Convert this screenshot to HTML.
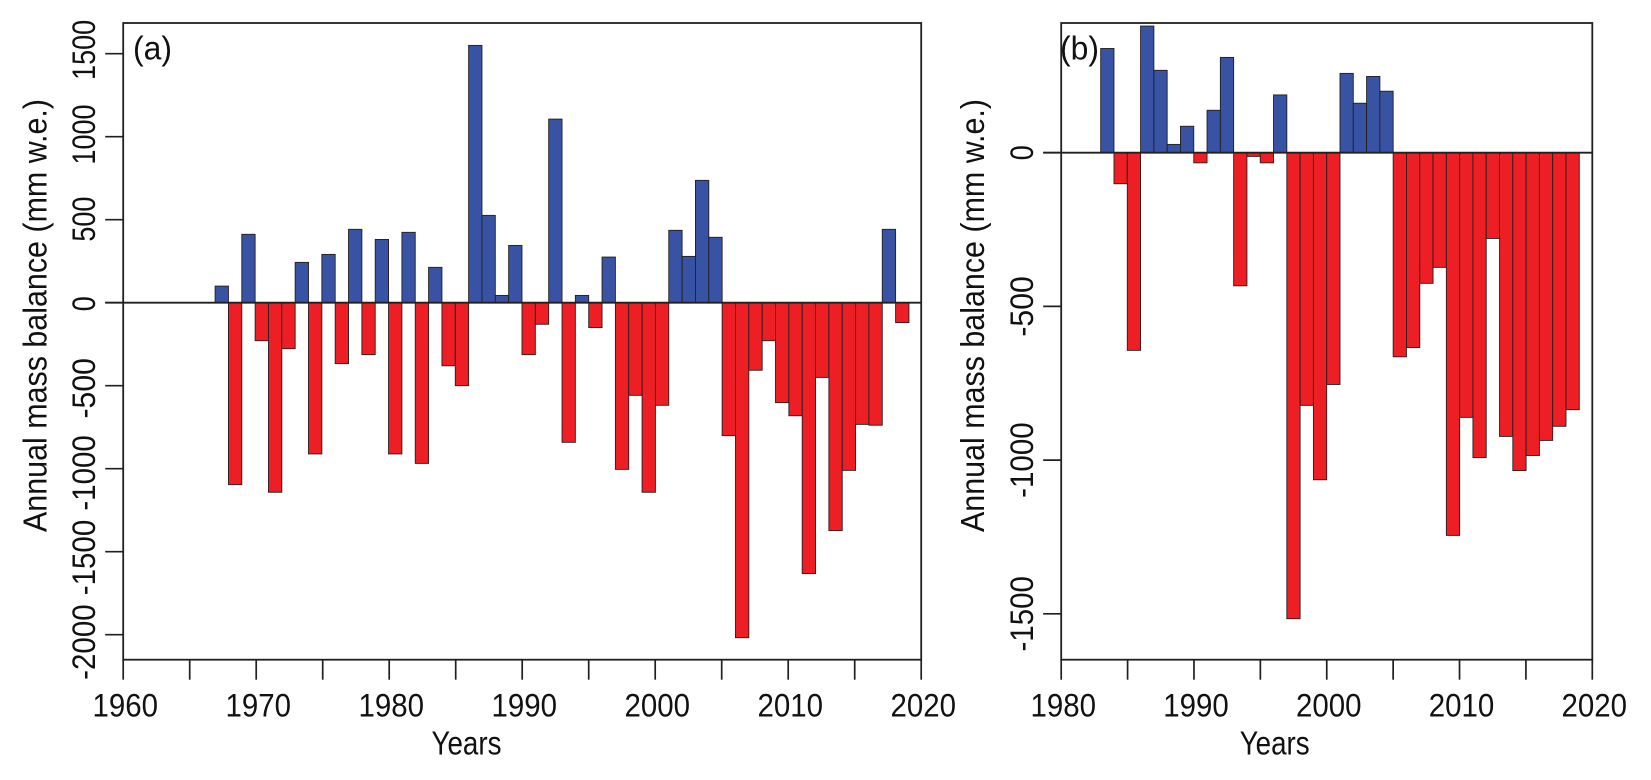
<!DOCTYPE html>
<html lang="en">
<head>
<meta charset="utf-8">
<title>Annual mass balance</title>
<style>
html,body{margin:0;padding:0;background:#fff;width:1651px;height:780px;overflow:hidden}
svg{display:block}
text{font-family:"Liberation Sans",sans-serif;fill:#111}
</style>
</head>
<body>
<svg id="chart" xmlns="http://www.w3.org/2000/svg" width="1651" height="780" viewBox="0 0 1651 780"></svg>
<script>
const yearsA = [1967,1968,1969,1970,1971,1972,1973,1974,1975,1976,1977,1978,1979,1980,1981,1982,1983,1984,1985,1986,1987,1988,1989,1990,1991,1992,1993,1994,1995,1996,1997,1998,1999,2000,2001,2002,2003,2004,2005,2006,2007,2008,2009,2010,2011,2012,2013,2014,2015,2016,2017,2018];
const valuesA = [100,-1096,412,-229,-1142,-277,243,-911,291,-367,442,-313,381,-911,424,-968,213,-380,-500,1550,526,44,345,-313,-130,1106,-841,44,-150,275,-1004,-558,-1142,-618,436,279,737,394,-801,-2018,-407,-229,-602,-681,-1632,-450,-1373,-1010,-733,-738,442,-120];
const yearsB = [1983,1984,1985,1986,1987,1988,1989,1990,1991,1992,1993,1994,1995,1996,1997,1998,1999,2000,2001,2002,2003,2004,2005,2006,2007,2008,2009,2010,2011,2012,2013,2014,2015,2016,2017,2018];
const valuesB = [339,-101,-643,412,268,27,86,-33,138,310,-433,-12,-33,188,-1516,-822,-1064,-754,258,161,248,200,-664,-634,-425,-373,-1245,-861,-992,-279,-923,-1034,-985,-936,-890,-836];
const yTicksA = [1500,1000,500,0,-500,-1000,-1500,-2000];
const yTicksB = [0,-500,-1000,-1500];
const xTicksA = [1960,1965,1970,1975,1980,1985,1990,1995,2000,2005,2010,2015,2020];
const xLabelsA = [1960,1970,1980,1990,2000,2010,2020];
const xTicksB = [1980,1985,1990,1995,2000,2005,2010,2015,2020];
const xLabelsB = [1980,1990,2000,2010,2020];

const NS = 'http://www.w3.org/2000/svg';
const INK = '#231F20';
const BLUE = '#3953A4';
const RED = '#ED1F24';
const svg = document.getElementById('chart');

function linear(d0, d1, r0, r1) {
  return function (v) { return r0 + (v - d0) * (r1 - r0) / (d1 - d0); };
}

function line(parent, x1, y1, x2, y2, w) {
  const l = document.createElementNS(NS, 'line');
  l.setAttribute('x1', x1);
  l.setAttribute('y1', y1);
  l.setAttribute('x2', x2);
  l.setAttribute('y2', y2);
  l.setAttribute('stroke', INK);
  l.setAttribute('stroke-width', w);
  parent.appendChild(l);
  return l;
}

function label(parent, str, x, y, size, len, rotate) {
  const t = document.createElementNS(NS, 'text');
  t.textContent = str;
  t.setAttribute('text-anchor', 'middle');
  t.setAttribute('font-size', size);
  t.setAttribute('textLength', len);
  t.setAttribute('lengthAdjust', 'spacingAndGlyphs');
  if (rotate) {
    t.setAttribute('transform', 'translate(' + x + ' ' + y + ') rotate(-90)');
  } else {
    t.setAttribute('x', x);
    t.setAttribute('y', y);
  }
  parent.appendChild(t);
  return t;
}

function yLabelLength(v) {
  return String(Math.abs(v)).length * 15 + (v < 0 ? 15.5 : 0);
}

function drawPanel(p) {
  const g = document.createElementNS(NS, 'g');
  
  
  svg.appendChild(g);

  const x = linear(p.xMin, p.xMax, p.left, p.right);
  const y = linear(0, 500, p.zeroY, p.zeroY - p.px500);
  const labelY = linear(0, 500, p.zeroY + p.labelShift, p.zeroY + p.labelShift - p.labelPx500);
  const barX = linear(p.years[0], p.years[p.years.length - 1], p.barFirst, p.barLast);
  const barW = (p.barLast - p.barFirst) / (p.years.length - 1);

  p.years.forEach(function (yr, i) {
    const v = p.values[i];
    const r = document.createElementNS(NS, 'rect');
    
    
    r.setAttribute('x', barX(yr).toFixed(2));
    r.setAttribute('y', Math.min(y(v), y(0)).toFixed(2));
    r.setAttribute('width', barW.toFixed(2));
    r.setAttribute('height', Math.abs(y(v) - y(0)).toFixed(2));
    r.setAttribute('fill', v >= 0 ? BLUE : RED);
    r.setAttribute('stroke', INK);
    r.setAttribute('stroke-width', '0.9');
    g.appendChild(r);
  });

  const frame = document.createElementNS(NS, 'rect');
  
  
  frame.setAttribute('x', p.left);
  frame.setAttribute('y', p.top);
  frame.setAttribute('width', p.right - p.left);
  frame.setAttribute('height', p.bottom - p.top);
  frame.setAttribute('fill', 'none');
  frame.setAttribute('stroke', INK);
  frame.setAttribute('stroke-width', '1.8');
  g.appendChild(frame);

  const zero = line(g, p.left - 18, y(0), p.right, y(0), 1.8);
  
  

  p.yTicks.forEach(function (v) {
    const tick = line(g, p.left - 18, y(v), p.left, y(v), 1.7);
    
    
    const t = label(g, String(v), p.yLabelX, labelY(v), 32, yLabelLength(v), true);
    
    
  });

  p.xTicks.forEach(function (v) {
    const tick = line(g, x(v), p.bottom, x(v), p.bottom + 20, 1.7);
    
    
  });

  p.xLabels.forEach(function (v) {
    const t = label(g, String(v), x(v) + 2, 716.5, 32, 65.5, false);
    
    
  });

  const xt = label(g, 'Years', p.xTitleX, 754.5, 33, 70, false);
  
  

  const yt = label(g, 'Annual mass balance (mm w.e.)', p.yTitleX, 315.5, 33, 433, true);
  
  

  const tag = label(g, p.tag, p.tagX, 59.5, 33, 39, false);
  
  
}

drawPanel({
  name: 'panel-a', tag: '(a)', tagX: 152.5,
  years: yearsA, values: valuesA, yTicks: yTicksA, xTicks: xTicksA, xLabels: xLabelsA,
  xMin: 1960, xMax: 2020, left: 123.2, right: 921.2, top: 23, bottom: 659.7,
  zeroY: 302.7, px500: 83, barFirst: 215.1, barLast: 895.6,
  yLabelX: 95, yTitleX: 46.7, xTitleX: 466.5, labelShift: 1, labelPx500: 84.6
});

drawPanel({
  name: 'panel-b', tag: '(b)', tagX: 1079.5,
  years: yearsB, values: valuesB, yTicks: yTicksB, xTicks: xTicksB, xLabels: xLabelsB,
  xMin: 1980, xMax: 2020, left: 1061.2, right: 1592.3, top: 23, bottom: 659.7,
  zeroY: 152.7, px500: 153.7, barFirst: 1100.7, barLast: 1566,
  yLabelX: 1033, yTitleX: 984, xTitleX: 1274.7, labelShift: 0, labelPx500: 153.7
});
</script>
</body>
</html>
